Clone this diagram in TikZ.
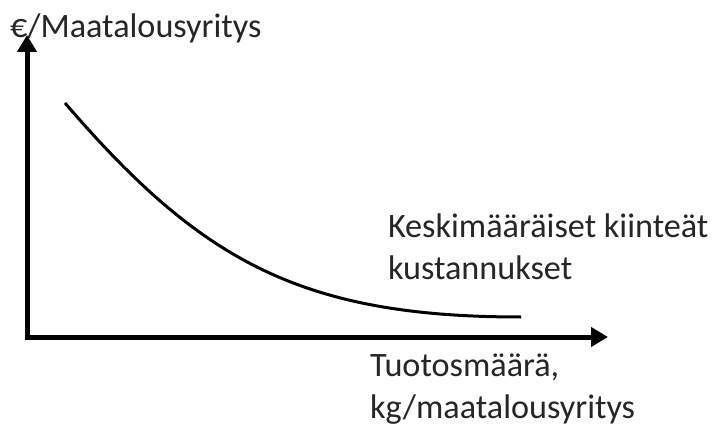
\documentclass[tikz,border=0pt]{standalone}
\usepackage{fontspec}
\setmainfont{Carlito}
\usetikzlibrary{arrows.meta}
\definecolor{txt}{RGB}{38,38,38}
\begin{document}
\begin{tikzpicture}[x=1pt,y=-1pt,
  axis/.style={line width=5pt,line join=miter,{Triangle[length=17pt,width=19pt]}-{Triangle[length=17pt,width=19pt]}},
  curveline/.style={line width=3pt},
  lbl/.style={inner sep=0pt,outer sep=0pt,anchor=base west,align=left,text=txt,
    font=\fontsize{34.2}{41.5}\selectfont}]
\useasboundingbox (0,0) rectangle (713,428);
\coordinate (O) at (27,337);
\coordinate (ytip) at (27,35);
\coordinate (xtip) at (608,337);
\coordinate (cstart) at (65,103);
\coordinate (cend) at (521,317);
\draw[axis] (ytip) -- (O) -- (xtip);
\draw[curveline] (cstart) .. controls (200,260) and (300,317) .. (cend);
\node[lbl] (ylab) at (10,38) {€/Maatalousyritys};
\node[lbl] (clab) at (388,279) {Keskimääräiset kiinteät\\kustannukset};
\node[lbl] (xlab) at (370,418) {Tuotosmäärä,\\kg/maatalousyritys};
\end{tikzpicture}
\end{document}
